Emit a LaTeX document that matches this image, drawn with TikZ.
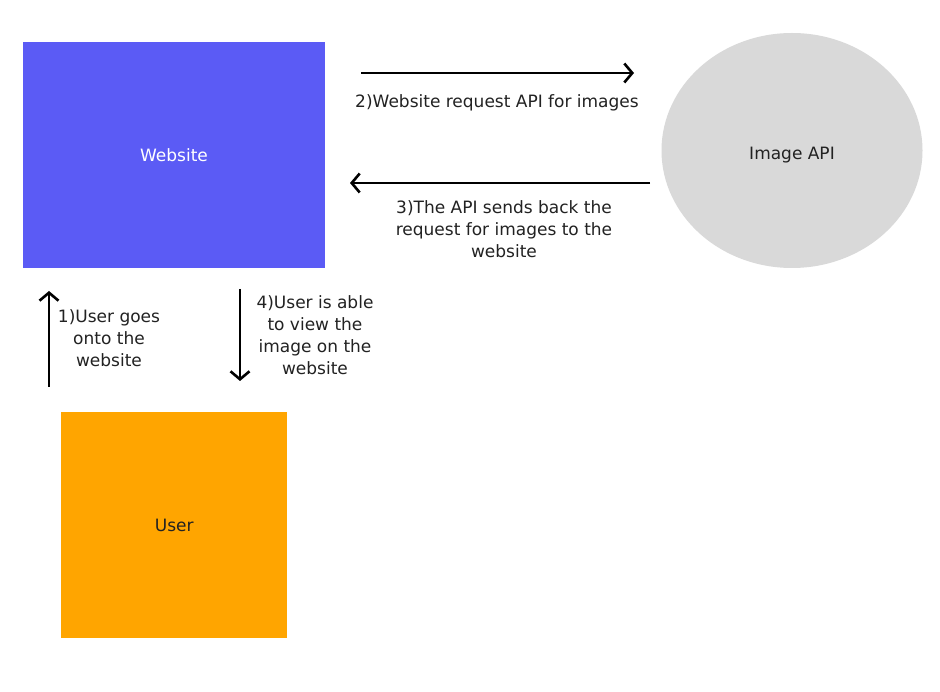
\documentclass[tikz,border=0pt]{standalone}
\usepackage{fontspec}
\setmainfont{DejaVu Sans}
\usetikzlibrary{arrows.meta,shapes.geometric}
\definecolor{webblue}{RGB}{91,91,245}
\definecolor{apigray}{RGB}{217,217,217}
\definecolor{userorange}{RGB}{255,165,0}
\definecolor{txt}{RGB}{34,34,34}
\begin{document}
\begin{tikzpicture}[x=1pt,y=-1pt,
  box/.style={draw=none,inner sep=0pt,anchor=north west},
  flow/.style={line width=2.6pt,-{Straight Barb[length=8pt,width=19pt,line width=2.6pt]}},
  titletext/.style={font=\fontsize{17}{20}\selectfont,inner sep=0pt},
  lbl/.style={font=\fontsize{17}{22}\selectfont,text=txt,align=center,inner sep=0pt}]
\useasboundingbox (0,0) rectangle (940,692);
\fill[white] (0,0) rectangle (940,692);
\node[box,fill=webblue,minimum width=302pt,minimum height=226pt] (web) at (23,42) {};
\node[titletext,text=white] (webt) at (174,155) {Website};
\node[ellipse,fill=apigray,minimum width=261pt,minimum height=235pt,inner sep=0pt] (api) at (792,150.5) {};
\node[titletext,text=txt] (apit) at (792,155) {Image API};
\node[box,fill=userorange,minimum width=226pt,minimum height=226pt] (user) at (61,412) {};
\node[titletext,text=txt] (usert) at (user.center) {User};
% connector ends
\coordinate (a2s) at (361,73);
\coordinate (a2e) at (634,73);
\coordinate (a3s) at (650,183);
\coordinate (a3e) at (350,183);
\coordinate (a1s) at (49,387);
\coordinate (a1e) at (49,291);
\coordinate (a4s) at (240,289);
\coordinate (a4e) at (240,381);
\draw[flow] (a2s) -- (a2e);
\draw[flow] (a3s) -- (a3e);
\draw[flow] (a1s) -- (a1e);
\draw[flow] (a4s) -- (a4e);
\node[lbl] (l2) at (497,103) {2)Website request API for images};
\node[lbl] (l3) at (504,229) {3)The API sends back the\\request for images to the\\website};
\node[lbl] (l1) at (109,338) {1)User goes\\onto the\\website};
\node[lbl] (l4) at (315,335) {4)User is able\\to view the\\image on the\\website};
\end{tikzpicture}
\end{document}
